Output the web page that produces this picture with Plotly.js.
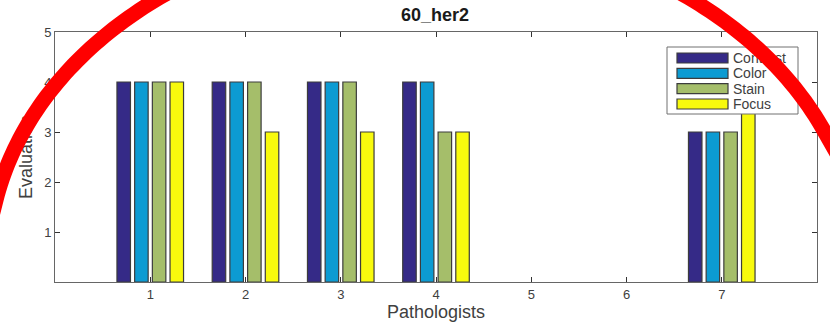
<!DOCTYPE html>
<html>
<head>
<meta charset="utf-8">
<script src="https://cdn.plot.ly/plotly-3.0.1.min.js"></script>
<style>
  html, body { margin: 0; padding: 0; background: #fff; }
  #wrap { position: relative; width: 830px; height: 332px; }
  #chart, #overlay { position: absolute; left: 0; top: 0; width: 830px; height: 332px; }
  #overlay { pointer-events: none; }
</style>
</head>
<body>
<div id="wrap">
  <div id="chart"></div>
  <div id="overlay"></div>
</div>
<script>
// Scores given by each pathologist for the 60_her2 slide
const pathologists = [1, 2, 3, 4, 5, 6, 7];
const seriesNames = ['Contrast', 'Color', 'Stain', 'Focus'];
const contrast = [4, 4, 4, 4, 0, 0, 3];
const color    = [4, 4, 4, 4, 0, 0, 3];
const stain    = [4, 4, 4, 3, 0, 0, 3];
const focus    = [4, 3, 3, 3, 0, 0, 4];
const seriesColors = ['#352a87', '#0c9bd2', '#a5be6a', '#f8fa0d'];
const xTickVals = [1, 2, 3, 4, 5, 6, 7];
const yTickVals = [1, 2, 3, 4, 5];

const W = 830, H = 332;
const M = { l: 55, r: 13, t: 32, b: 50 };
const plotW = W - M.l - M.r, plotH = H - M.t - M.b;
// pixel -> paper coordinate helpers for decorations
const px = v => (v - M.l) / plotW;
const py = v => (H - M.b - v) / plotH;

const font = 'Liberation Sans, Arial, Helvetica, sans-serif';
const textGrey = '#404040';
const axisGrey = '#666666';

const seriesValues = [contrast, color, stain, focus];
const traces = seriesNames.map((name, i) => ({
  type: 'bar',
  name: name,
  x: pathologists,
  y: seriesValues[i],
  marker: {
    color: seriesColors[i],
    // empty (zero) scores get no outline so nothing shows on the baseline
    line: { color: '#3c3c3c', width: seriesValues[i].map(v => (v === 0 ? 0 : 1.2)) }
  },
  showlegend: false,
  hoverinfo: 'x+y+name'
}));

// Hand-built legend with wide swatches
const legendShapes = [{
  type: 'rect', xref: 'paper', yref: 'paper',
  x0: px(667), x1: px(798), y0: py(114), y1: py(47),
  fillcolor: '#ffffff', line: { color: '#707070', width: 1 }, layer: 'above'
}];
const legendNotes = [];
const rowY = [58, 73.3, 88.6, 104];
seriesNames.forEach((name, i) => {
  legendShapes.push({
    type: 'rect', xref: 'paper', yref: 'paper',
    x0: px(677), x1: px(728), y0: py(rowY[i] + 5), y1: py(rowY[i] - 5),
    fillcolor: seriesColors[i], line: { color: '#3c3c3c', width: 1.2 }, layer: 'above'
  });
  legendNotes.push({
    xref: 'paper', yref: 'paper', x: px(731), y: py(rowY[i]),
    xanchor: 'left', yanchor: 'middle', showarrow: false,
    text: name, font: { family: font, size: 14, color: textGrey }
  });
});

const axisCommon = {
  showline: true, linecolor: axisGrey, linewidth: 1, mirror: 'ticks',
  ticks: 'inside', ticklen: 5, tickcolor: '#333333', tickwidth: 1,
  showgrid: false, zeroline: false, fixedrange: true,
  tickfont: { family: font, size: 13, color: textGrey }
};

const layout = {
  width: W, height: H,
  margin: M,
  paper_bgcolor: '#ffffff', plot_bgcolor: '#ffffff',
  barmode: 'group', bargap: 0.257, bargroupgap: 0.237,
  title: {
    text: '<b>60_her2</b>', x: px(435), xref: 'paper', xanchor: 'center',
    y: 1 - 15 / H, yref: 'container', yanchor: 'middle',
    font: { family: font, size: 18, color: '#1a1a1a' }
  },
  xaxis: Object.assign({}, axisCommon, {
    range: [0, 8], tickmode: 'array', tickvals: xTickVals,
    ticktext: xTickVals.map(String),
    title: { text: 'Pathologists', font: { family: font, size: 18, color: textGrey }, standoff: 2 }
  }),
  yaxis: Object.assign({}, axisCommon, {
    range: [0, 5], tickmode: 'array', tickvals: yTickVals,
    ticktext: yTickVals.map(String),
    title: { text: 'Evaluation', font: { family: font, size: 18, color: textGrey }, standoff: 6 }
  }),
  shapes: legendShapes,
  annotations: legendNotes
};

Plotly.newPlot('chart', traces, layout, { displayModeBar: false, staticPlot: true });

// Red hand-drawn ring over the whole figure: the upper arc of a large ellipse
// (pixel units, y pointing down) whose two ends run straight on past the edges
const ring = { cx: 424, cy: 264, rx: 436, ry: 335, fromDeg: -169, toDeg: -23.6, tail: 1.2, width: 15 };
function ringArcPath(r) {
  const rad = d => d * Math.PI / 180, f = v => v.toFixed(2);
  const pt = t => [r.cx + r.rx * Math.cos(t), r.cy + r.ry * Math.sin(t)];
  const t0 = rad(r.fromDeg), t1 = rad(r.toDeg);
  // tangent tails leaving the arc ends
  const a = pt(t0), b = pt(t1);
  const startTail = [a[0] + r.tail * r.rx * Math.sin(t0), a[1] - r.tail * r.ry * Math.cos(t0)];
  const endTail = [b[0] - r.tail * r.rx * Math.sin(t1), b[1] + r.tail * r.ry * Math.cos(t1)];
  let d = 'M' + f(startTail[0]) + ',' + f(startTail[1]);
  const steps = 160;
  for (let k = 0; k <= steps; k++) {
    const p = pt(t0 + (t1 - t0) * k / steps);
    d += 'L' + f(p[0]) + ',' + f(p[1]);
  }
  return d + 'L' + f(endTail[0]) + ',' + f(endTail[1]);
}
const ringLayout = {
  width: W, height: H, margin: { l: 0, r: 0, t: 0, b: 0 },
  paper_bgcolor: 'rgba(0,0,0,0)', plot_bgcolor: 'rgba(0,0,0,0)',
  xaxis: { visible: false, range: [0, W] },
  yaxis: { visible: false, range: [H, 0] },
  shapes: [{
    type: 'path', xref: 'x', yref: 'y', path: ringArcPath(ring),
    line: { color: '#ff0000', width: ring.width }, fillcolor: 'rgba(0,0,0,0)', layer: 'above'
  }]
};
Plotly.newPlot('overlay', [], ringLayout, { displayModeBar: false, staticPlot: true });
</script>
</body>
</html>
